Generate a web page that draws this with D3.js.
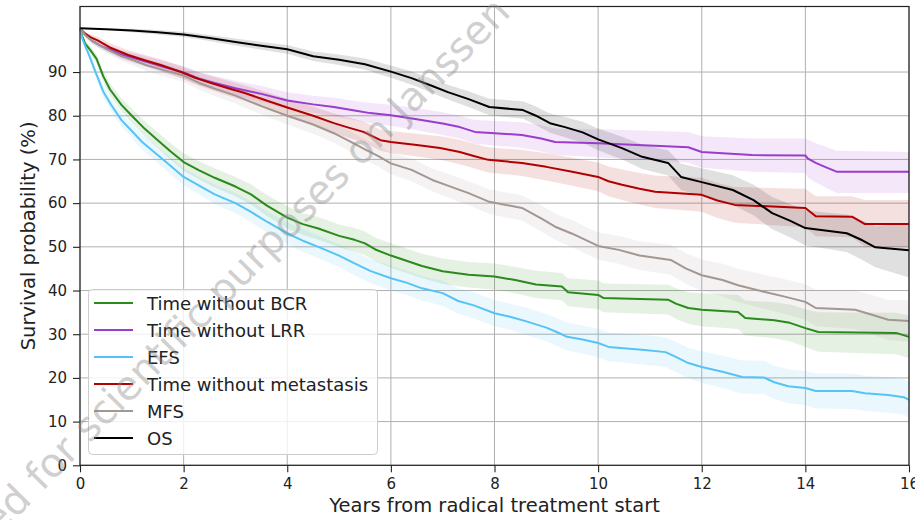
<!DOCTYPE html>
<html>
<head>
<meta charset="utf-8">
<script src="https://cdn.jsdelivr.net/npm/d3@7"></script>
<style>
  html, body { margin: 0; padding: 0; background: #fff; }
  svg { display: block; font-family: "DejaVu Sans", sans-serif; }
</style>
</head>
<body>
<svg id="chart" width="915" height="520"></svg>
<script>
// ---- data: [time (years), survival %, CI lower %, CI upper %] ----
const seriesNames = ["Time without BCR", "Time without LRR", "EFS", "Time without metastasis", "MFS", "OS"];
const seriesColors = ["#2a8a1c", "#9a3ccc", "#56c3f7", "#b00000", "#a39791", "#000000"];

const bcr = [
  [0,100,100,100],[0.05,98,97.5,98.5],[0.1,96.5,95.8,97.2],[0.2,95,94.1,95.9],[0.32,93,91.9,94.1],
  [0.45,89,87.7,90.3],[0.58,86,84.6,87.4],[0.8,82.5,81,84],[1.0,80,78.4,81.6],[1.25,77,75.3,78.7],
  [1.5,74.4,72.6,76.2],[1.75,71.8,69.9,73.7],[2.0,69.4,67.4,71.4],[2.3,67.5,65.4,69.6],[2.6,65.8,63.6,68],
  [3.0,63.8,61.6,66],[3.3,62,59.7,64.3],[3.6,59.5,57.1,61.9],[4.0,56.7,54.2,59.2],[4.3,55.2,52.7,57.7],
  [4.6,54.2,51.6,56.8],[5.0,52.5,49.9,55.1],[5.3,51.6,48.9,54.3],[5.5,50.8,48.1,53.5],[5.7,49.4,46.7,52.1],
  [6.0,48,45.2,50.8],[6.3,46.8,44,49.6],[6.6,45.6,42.8,48.4],[7.0,44.4,41.5,47.3],[7.5,43.6,40.7,46.5],
  [8.0,43.2,40.2,46.2],[8.4,42.4,39.4,45.4],[8.8,41.4,38.3,44.5],[9.3,40.9,37.8,44],[9.42,39.6,36.4,42.8],
  [10.0,39,35.7,42.3],[10.1,38.3,35,41.6],[11.35,37.9,34.5,41.3],[11.5,37,33.5,40.5],[11.74,36,32.4,39.6],
  [12.0,35.6,31.8,39.4],[12.7,35.1,31.2,39],[12.84,33.7,29.7,37.7],[13.4,33.2,29.1,37.3],[13.7,32.6,28.4,36.8],
  [14.0,31.4,27.1,35.7],[14.25,30.5,26,35],[15.75,30.3,25.4,34.9],[16,29.4,24.5,34.3]
];
const lrr = [
  [0,100,100,100],[0.1,98.5,98,99],[0.25,97,96.3,97.7],[0.4,96,95.2,96.8],[0.6,95,94.1,95.9],
  [0.8,94,93,95],[1.0,93.3,92.2,94.4],[1.3,92.3,91.1,93.5],[1.6,91.2,89.9,92.5],[2.0,89.9,88.5,91.3],
  [2.3,88.5,87,90],[2.6,87.5,85.9,89.1],[3.0,86.3,84.6,88],[3.5,85,83.2,86.8],[4.0,83.5,81.6,85.4],
  [4.5,82.6,80.6,84.6],[4.9,82,79.9,84.1],[5.3,81.2,79,83.4],[5.6,80.6,78.3,82.9],[6.0,80.1,77.7,82.5],
  [6.5,79.2,76.7,81.7],[7.0,78.2,75.6,80.8],[7.33,77.4,74.8,80],[7.62,76.3,73.6,79],[8.0,76,73.2,78.8],
  [8.53,75.6,72.7,78.5],[8.9,74.8,71.8,77.8],[9.17,74,71,77],[10.0,73.7,70.5,76.9],[11.74,72.8,69.3,76.3],
  [12.0,71.7,68.1,75.3],[12.97,71,67.2,74.8],[14.0,70.9,66.9,74.8],[14.05,70.2,65.8,74.5],[14.2,69.2,64.7,73.7],
  [14.4,68.2,63.5,72.9],[14.6,67.2,62.3,72],[16,67.2,62.3,71.7]
];
const efs = [
  [0,100,100,100],[0.05,97.5,97,98],[0.1,96,95.3,96.7],[0.19,93.4,92.4,94.4],[0.3,90,88.9,91.1],
  [0.45,85.5,84.2,86.8],[0.6,82.5,81.1,83.9],[0.8,79,77.5,80.5],[1.0,76.5,74.9,78.1],[1.2,74,72.3,75.7],
  [1.4,72,70.2,73.8],[1.7,69,67.1,70.9],[2.0,66,64,68],[2.3,64,61.9,66.1],[2.6,62,59.8,64.2],
  [3.0,60,57.7,62.3],[3.3,58,55.6,60.4],[3.6,55.8,53.4,58.2],[4.0,53.1,50.6,55.6],[4.3,51.4,48.8,54],
  [4.6,50,47.4,52.6],[5.0,48,45.4,50.6],[5.3,46.2,43.5,48.9],[5.6,44.5,41.8,47.2],[6.0,42.8,40,45.6],
  [6.3,41.8,39,44.6],[6.6,40.5,37.7,43.3],[7.0,39.4,36.5,42.3],[7.3,37.6,34.7,40.5],[7.6,36.6,33.6,39.6],
  [8.0,34.8,31.8,37.8],[8.3,34,31,37],[8.6,33,29.9,36.1],[9.0,31.5,28.4,34.6],[9.2,30.5,27.3,33.7],
  [9.4,29.4,26.2,32.6],[9.7,28.8,25.6,32],[10.0,28,24.7,31.3],[10.2,27.1,23.8,30.4],[10.9,26.4,23,29.8],
  [11.3,25.9,22.5,29.3],[11.5,24.8,21.3,28.3],[11.74,23.4,19.9,26.9],[12.0,22.5,18.9,26.1],[12.4,21.4,17.7,25.1],
  [12.78,20.2,16.4,24],[13.2,20.1,16.3,23.9],[13.4,19,15.2,22.8],[13.67,18.1,14.2,22],[14.0,17.7,13.8,21.6],
  [14.2,17,13,21],[14.9,17,12.9,21],[15.15,16.5,12.5,20.5],[15.6,16.1,12,20.2],[15.9,15.6,11.6,19.8],
  [16,15,11,19]
];
const meta = [
  [0,100,100,100],[0.1,98.8,98.3,99.3],[0.2,98,97.4,98.6],[0.35,97.2,96.4,98],[0.6,95.5,94.5,96.5],
  [0.93,93.9,92.8,95],[1.25,92.7,91.5,93.9],[1.56,91.6,90.3,92.9],[1.95,90,88.6,91.4],[2.22,88.7,87.2,90.2],
  [2.53,87.5,85.9,89.1],[2.86,86.3,84.6,88],[3.18,85.2,83.4,87],[3.57,83.6,81.7,85.5],[4.0,81.9,79.9,83.9],
  [4.5,80,77.9,82.1],[4.9,78.3,76.1,80.5],[5.15,77.4,75.1,79.7],[5.47,76.3,73.9,78.7],[5.8,74.4,72,76.8],
  [6.0,74,71.5,76.5],[6.5,73.3,70.7,75.9],[6.95,72.6,69.9,75.3],[7.33,71.7,68.9,74.5],[7.6,70.8,68,73.6],
  [7.88,69.9,67,72.8],[8.53,69.2,66.2,72.2],[9.0,68.3,65.2,71.4],[9.5,67.2,64,70.4],[10.0,66,62.7,69.3],
  [10.2,65,61.6,68.4],[10.46,64.2,60.7,67.7],[10.8,63.3,59.7,66.9],[11.1,62.6,58.9,66.3],[12.0,61.9,58,65.8],
  [12.3,60.6,56.6,64.6],[12.64,59.6,55.5,63.7],[14.0,58.9,54.5,63.3],[14.2,57,52.4,61.6],[14.9,56.9,52.2,61.6],
  [15.15,55.2,50,60.7],[16,55.2,50,60.7]
];
const mfs = [
  [0,100,100,100],[0.1,98.5,98,99],[0.25,97,96.3,97.7],[0.5,95.3,94.4,96.2],[0.8,93.6,92.5,94.7],
  [1.0,92.8,91.6,94],[1.3,91.5,90.2,92.8],[1.6,90.5,89.1,91.9],[2.0,89.2,87.7,90.7],[2.3,87.5,85.9,89.1],
  [2.6,86.2,84.5,87.9],[3.0,84.6,82.8,86.4],[3.5,82.2,80.3,84.1],[4.0,80,78,82],[4.5,78,75.9,80.1],
  [4.9,76,73.8,78.2],[5.2,74.2,71.9,76.5],[5.5,72.3,70,74.6],[5.75,70.8,68.4,73.2],[6.0,69.1,66.6,71.6],
  [6.4,67.6,65,70.2],[6.8,65.3,62.7,67.9],[7.1,64,61.3,66.7],[7.5,62.3,59.6,65],[7.9,60.3,57.5,63.1],
  [8.53,58.9,56,61.8],[8.9,56.5,53.5,59.5],[9.17,54.6,51.6,57.6],[9.5,53,49.9,56.1],[10.0,50.2,47.1,53.3],
  [10.4,49.3,46.1,52.5],[10.8,48,44.7,51.3],[11.4,47,43.6,50.4],[11.7,45,41.5,48.5],[12.0,43.5,39.9,47.1],
  [12.4,42.4,38.7,46.1],[12.7,41.2,37.4,45],[13.2,39.7,35.8,43.6],[13.6,38.6,34.6,42.6],[14.0,37.4,33.3,41.5],
  [14.2,36,31.8,40.2],[14.96,35.6,31.2,40],[15.3,34.4,29.9,38.9],[15.6,33.3,28.7,37.9],[16,33,28.3,37.7]
];
const os = [
  [0,100,100,100],[0.5,99.8,99.6,100],[1.0,99.5,99.1,99.9],[1.5,99.1,98.6,99.6],[2.0,98.6,98,99.2],
  [2.5,97.8,97.1,98.5],[3.0,96.9,96.1,97.7],[3.5,96,95.1,96.9],[4.0,95.2,94.2,96.2],[4.5,93.6,92.5,94.7],
  [5.0,92.8,91.6,94],[5.5,91.8,90.5,93.1],[6.0,90.1,88.7,91.5],[6.4,88.6,87.1,90.1],[6.8,86.8,85.2,88.4],
  [7.1,85.4,83.7,87.1],[7.5,83.8,82,85.6],[7.9,82,80.1,83.9],[8.55,81.3,79.3,83.3],[8.8,80,77.9,82.1],
  [9.07,78.3,76.1,80.5],[9.36,77.4,75.1,79.7],[9.7,76.2,73.8,78.6],[10.0,74.6,72.1,77.1],[10.46,72.6,70,75.2],
  [10.85,70.6,67.8,73.4],[11.35,69.2,66.3,72.1],[11.6,66,63,69],[12.0,64.8,61.6,68],[12.6,63,59.6,66.4],
  [13.0,60.7,57.2,64.2],[13.36,57.7,54,61.4],[13.7,56,52.2,59.8],[14.0,54.3,50.3,58.3],[14.8,53.1,48.8,57.4],
  [15.1,51.5,47,56],[15.35,49.9,45.3,54.7],[16,49.2,43,55.5]
];
const seriesData = [bcr, lrr, efs, meta, mfs, os];

const xTicks = [0, 2, 4, 6, 8, 10, 12, 14, 16];
const yTicks = [0, 10, 20, 30, 40, 50, 60, 70, 80, 90];
const xLabel = "Years from radical treatment start";
const yLabel = "Survival probability (%)";
const watermark = "Licensed for scientific purposes on Janssen";

// ---- layout ----
const svg = d3.select("#chart");
const m = { left: 80, right: 909, top: 6.5, bottom: 465.3 };
const x = d3.scaleLinear().domain([0, 16]).range([m.left, m.right]);
const y = d3.scaleLinear().domain([0, 105]).range([m.bottom, m.top]);

// grid
const grid = svg.append("g");
grid.selectAll("line.gx").data(xTicks).join("line")
  .attr("x1", d => x(d)).attr("x2", d => x(d)).attr("y1", m.top).attr("y2", m.bottom)
  .attr("stroke", "#b0b0b0").attr("stroke-width", 1);
grid.selectAll("line.gy").data(yTicks).join("line")
  .attr("x1", m.left).attr("x2", m.right).attr("y1", d => y(d)).attr("y2", d => y(d))
  .attr("stroke", "#b0b0b0").attr("stroke-width", 1);

// curves
const plot = svg.append("g");
const area = d3.area().curve(d3.curveLinear)
  .x(d => x(d[0])).y0(d => y(d[2])).y1(d => y(d[3]));
const line = d3.line().curve(d3.curveLinear)
  .x(d => x(d[0])).y(d => y(d[1]));
seriesData.forEach((data, i) => {
  plot.append("path").attr("d", area(data))
    .attr("fill", seriesColors[i]).attr("fill-opacity", 0.12).attr("stroke", "none");
});
seriesData.forEach((data, i) => {
  plot.append("path").attr("d", line(data))
    .attr("fill", "none").attr("stroke", seriesColors[i]).attr("stroke-width", 2)
    .attr("stroke-linejoin", "round");
});

// axes
const xAxis = d3.axisBottom(x).tickValues(xTicks).tickSize(7).tickPadding(6).tickFormat(d3.format("d"));
const yAxis = d3.axisLeft(y).tickValues(yTicks).tickSize(7).tickPadding(6).tickFormat(d3.format("d"));
const gx = svg.append("g").attr("transform", `translate(0,${m.bottom})`).call(xAxis);
const gy = svg.append("g").attr("transform", `translate(${m.left},0)`).call(yAxis);
[gx, gy].forEach(g => {
  g.select(".domain").remove();
  g.selectAll(".tick line").attr("stroke", "#222").attr("stroke-width", 1.1);
  g.selectAll(".tick text").attr("fill", "#222").style("font-size", "15px").style("font-family", "DejaVu Sans");
});
gx.selectAll(".tick text").attr("dy", "0.71em");

// frame
svg.append("rect").attr("x", m.left).attr("y", m.top)
  .attr("width", m.right - m.left).attr("height", m.bottom - m.top)
  .attr("fill", "none").attr("stroke", "#222").attr("stroke-width", 1.2);

// axis labels
svg.append("text").attr("x", (m.left + m.right) / 2).attr("y", 512)
  .attr("text-anchor", "middle").attr("fill", "#222").style("font-size", "19.5px").text(xLabel);
svg.append("text").attr("transform", `translate(35,${y(52.5)}) rotate(-90)`)
  .attr("text-anchor", "middle").attr("fill", "#222").style("font-size", "19.5px").text(yLabel);

// legend
const lg = svg.append("g");
lg.append("rect").attr("x", 88.5).attr("y", 289.5).attr("width", 289).attr("height", 165).attr("rx", 4)
  .attr("fill", "#fff").attr("fill-opacity", 0.8).attr("stroke", "#cccccc").attr("stroke-width", 1);
seriesNames.forEach((name, i) => {
  const cy = 303 + i * 27;
  lg.append("line").attr("x1", 94).attr("x2", 133).attr("y1", cy).attr("y2", cy)
    .attr("stroke", seriesColors[i]).attr("stroke-width", 2);
  lg.append("text").attr("x", 147).attr("y", cy + 6.5).attr("fill", "#222")
    .style("font-size", "18px").text(name);
});

// watermark
svg.append("text").attr("transform", "translate(512,14) rotate(-45.5)")
  .attr("text-anchor", "end").attr("fill", "#8c8c8c").attr("fill-opacity", 0.42)
  .style("font-size", "40px").text(watermark);
</script>
</body>
</html>
